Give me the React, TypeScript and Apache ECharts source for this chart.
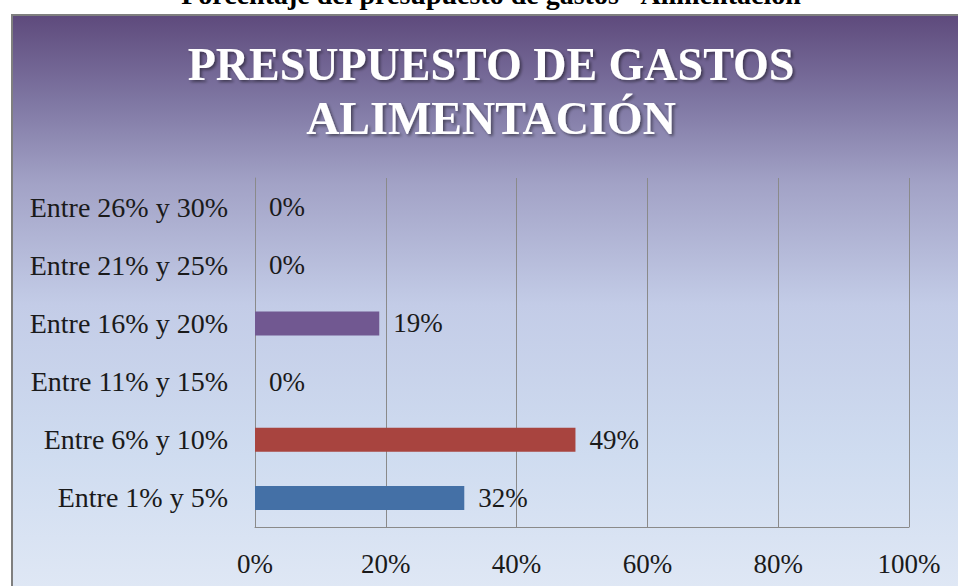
import React, { useEffect, useRef } from "react";
import * as echarts from "echarts";

const pageTitle = "Porcentaje del presupuesto de gastos - Alimentación";
const chartTitleLines = ["PRESUPUESTO DE GASTOS", "ALIMENTACIÓN"];
const categories = [
  "Entre 1% y 5%",
  "Entre 6% y 10%",
  "Entre 11% y 15%",
  "Entre 16% y 20%",
  "Entre 21% y 25%",
  "Entre 26% y 30%",
];
const values = [32, 49, 0, 19, 0, 0];
const barColors = ["#4470a6", "#a8443f", "#8ea954", "#715891", "#3f93ac", "#e0873a"];
const axisMin = 0;
const axisMax = 100;
const axisInterval = 20;

const serif = "Liberation Serif";

export default function App() {
  const ref = useRef<HTMLDivElement>(null);
  useEffect(() => {
    if (!ref.current) return;
    const chart = echarts.init(ref.current, null, { renderer: "svg" });
    const gray = "#8a8a8a";
    const titleStyle = {
      fill: "#ffffff",
      fontFamily: serif,
      fontWeight: "bold",
      fontSize: 46,
      align: "center",
      verticalAlign: "middle",
      textShadowColor: "rgba(0,0,0,0.45)",
      textShadowBlur: 3,
      textShadowOffsetX: 2,
      textShadowOffsetY: 2,
    };
    chart.setOption({
      animation: false,
      backgroundColor: "#ffffff",
      graphic: [
        {
          type: "rect",
          z: -100,
          silent: true,
          shape: { x: 12, y: 15, width: 960, height: 580 },
          style: {
            fill: new echarts.graphic.LinearGradient(0, 0, 0, 1, [
              { offset: 0, color: "#5e4a7c" },
              { offset: 0.15, color: "#7f77a3" },
              { offset: 0.29, color: "#a2a2c6" },
              { offset: 0.5, color: "#c3cce7" },
              { offset: 0.76, color: "#cfdcf0" },
              { offset: 1, color: "#e0e8f5" },
            ]),
            stroke: "#7f7f7f",
            lineWidth: 2,
          },
        },
        {
          type: "text",
          z: 10,
          x: 491,
          y: 8,
          style: {
            text: pageTitle,
            fill: "#000000",
            fontFamily: serif,
            fontWeight: "bold",
            fontSize: 28,
            align: "center",
            verticalAlign: "bottom",
          },
        },
        {
          type: "text",
          z: 10,
          x: 491,
          y: 64,
          style: { ...titleStyle, text: chartTitleLines[0] },
        },
        {
          type: "text",
          z: 10,
          x: 491,
          y: 118,
          style: { ...titleStyle, text: chartTitleLines[1] },
        },
      ],
      grid: { left: 255, right: 49, top: 178, bottom: 59, containLabel: false },
      xAxis: {
        type: "value",
        min: axisMin,
        max: axisMax,
        interval: axisInterval,
        axisLine: { show: true, lineStyle: { color: gray, width: 1 } },
        axisTick: { show: false },
        splitLine: { show: true, lineStyle: { color: gray, width: 1 } },
        axisLabel: {
          formatter: "{value}%",
          margin: 23,
          color: "#1a1a1a",
          fontFamily: serif,
          fontSize: 27,
        },
      },
      yAxis: {
        type: "category",
        data: categories,
        axisLine: { show: true, lineStyle: { color: gray, width: 1 } },
        axisTick: { show: false },
        splitLine: { show: false },
        axisLabel: {
          margin: 27,
          color: "#1a1a1a",
          fontFamily: serif,
          fontSize: 28,
        },
      },
      series: [
        {
          type: "bar",
          data: values.map((v, i) => ({ value: v, itemStyle: { color: barColors[i] } })),
          barWidth: 24,
          label: {
            show: true,
            position: "right",
            distance: 14,
            formatter: "{c}%",
            color: "#1a1a1a",
            fontFamily: serif,
            fontSize: 27,
          },
        },
      ],
    });
    return () => chart.dispose();
  }, []);
  return (
    <div
      ref={ref}
      style={{ position: "absolute", left: 0, top: 0, width: 958, height: 586 }}
    />
  );
}
